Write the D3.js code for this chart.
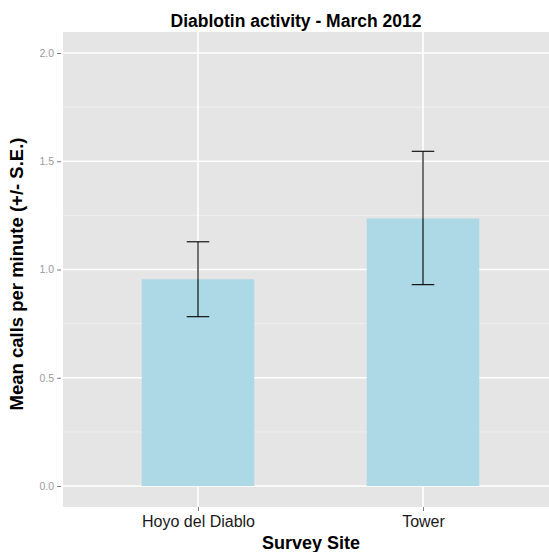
<!DOCTYPE html>
<html><head><meta charset="utf-8">
<script src="https://cdn.jsdelivr.net/npm/d3@7"></script>
<style>body{margin:0;background:#fff}svg{display:block}text{font-family:"Liberation Sans",Arial,Helvetica,sans-serif}</style>
</head><body><svg id="c" width="549" height="552"></svg>
<script>
const sites = ["Hoyo del Diablo", "Tower"];
const means = [0.955, 1.236];
const upper = [1.128, 1.546];
const lower = [0.782, 0.930];
const yTicks = [0.0, 0.5, 1.0, 1.5, 2.0];
const yMinor = [0.25, 0.75, 1.25, 1.75];
const title = "Diablotin activity - March 2012";
const xTitle = "Survey Site";
const yTitle = "Mean calls per minute (+/- S.E.)";

const svg = d3.select("#c");
const P = {l: 63, r: 549, t: 32, b: 507};
const y = d3.scaleLinear().domain([-0.097, 2.097]).range([P.b, P.t]);
const xi = d3.scaleLinear().domain([1, 2]).range([198, 423]);
const unit = xi(2) - xi(1);

svg.append("rect").attr("x", P.l).attr("y", P.t).attr("width", P.r - P.l).attr("height", P.b - P.t).attr("fill", "#e5e5e5");
const g = svg.append("g");
g.selectAll(".mn").data(yMinor).join("line")
  .attr("x1", P.l).attr("x2", P.r).attr("y1", d => y(d)).attr("y2", d => y(d))
  .attr("stroke", "#f2f2f2").attr("stroke-width", 0.8);
g.selectAll(".mj").data(yTicks).join("line")
  .attr("x1", P.l).attr("x2", P.r).attr("y1", d => y(d)).attr("y2", d => y(d))
  .attr("stroke", "#fff").attr("stroke-width", 1.6);
g.selectAll(".vx").data(sites).join("line")
  .attr("x1", (d, i) => xi(i + 1)).attr("x2", (d, i) => xi(i + 1)).attr("y1", P.t).attr("y2", P.b)
  .attr("stroke", "#fff").attr("stroke-width", 1.6);

// bars
g.selectAll(".bar").data(means).join("rect")
  .attr("x", (d, i) => xi(i + 1) - unit * 0.25).attr("width", unit * 0.5)
  .attr("y", d => y(d)).attr("height", d => y(0) - y(d))
  .attr("fill", "#add8e6");

// error bars
const eb = g.selectAll(".eb").data(sites).join("g");
eb.append("line").attr("x1", (d, i) => xi(i + 1)).attr("x2", (d, i) => xi(i + 1))
  .attr("y1", (d, i) => y(upper[i])).attr("y2", (d, i) => y(lower[i]))
  .attr("stroke", "#000").attr("stroke-width", 1.1);
[upper, lower].forEach(arr => {
  eb.append("line").attr("x1", (d, i) => xi(i + 1) - unit * 0.05).attr("x2", (d, i) => xi(i + 1) + unit * 0.05)
    .attr("y1", (d, i) => y(arr[i])).attr("y2", (d, i) => y(arr[i]))
    .attr("stroke", "#000").attr("stroke-width", 1.1);
});

// y axis
const yAxis = d3.axisLeft(y).tickValues(yTicks).tickFormat(d3.format(".1f")).tickSize(4).tickPadding(3);
const ya = svg.append("g").attr("transform", `translate(${P.l - 2},0)`).call(yAxis);
ya.select(".domain").remove();
ya.selectAll("line").attr("stroke", "#7f7f7f");
ya.selectAll("text").attr("fill", "#9a9a9a").attr("font-size", 10.5).style("font-family", "'Liberation Sans',Arial,sans-serif");

// x axis
const xs = d3.scalePoint().domain(sites).range([xi(1), xi(2)]);
const xAxis = d3.axisBottom(xs).tickSize(4).tickPadding(5);
const xa = svg.append("g").attr("transform", `translate(0,${P.b})`).call(xAxis);
xa.select(".domain").remove();
xa.selectAll("line").attr("stroke", "#7f7f7f");
xa.selectAll("text").attr("fill", "#1a1a1a").attr("font-size", 16).style("font-family", "'Liberation Sans',Arial,sans-serif");

svg.append("text").attr("x", 296).attr("y", 27).attr("text-anchor", "middle")
  .attr("font-size", 17.5).attr("font-weight", "bold").attr("fill", "#000").text(title);
svg.append("text").attr("x", 311).attr("y", 549).attr("text-anchor", "middle")
  .attr("font-size", 18).attr("font-weight", "bold").attr("fill", "#000").text(xTitle);
svg.append("text").attr("transform", `translate(23,274) rotate(-90)`).attr("text-anchor", "middle")
  .attr("font-size", 18.5).attr("font-weight", "bold").attr("fill", "#000").text(yTitle);
</script></body></html>
